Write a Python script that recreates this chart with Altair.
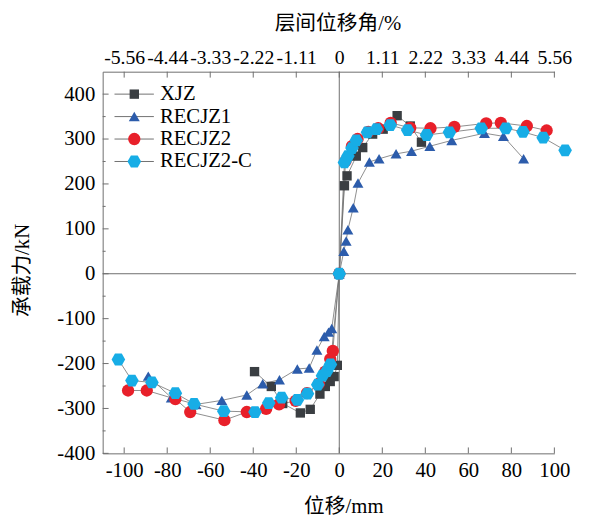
import altair as alt
import pandas as pd

# ---------------- data ----------------
series_names = ["XJZ", "RECJZ1", "RECJZ2", "RECJZ2-C"]
series_colors = ["#3a3e42", "#2c5cab", "#e8202a", "#17ade6"]
HEX = "M-1,0L-0.5,-0.866L0.5,-0.866L1,0L0.5,0.866L-0.5,0.866Z"
series_shapes = ["square", "triangle-up", "circle", HEX]
series_sizes = [90, 190, 121, 130]

xjz_x = [-39.4, -31.6, -26.3, -18.1, -13.5, -9.0, -6.5, -4.2, -2.4, -0.9, 0,
         2.4, 3.6, 7.9, 10.9, 15.5, 20.4, 26.9, 33.0, 38.2]
xjz_y = [-218, -251, -289, -310, -302, -268, -251, -240, -229, -204, 0,
         196, 218, 262, 281, 311, 322, 352, 329, 293]

r1_x = [-88.8, -78.1, -66.6, -54.6, -43.0, -35.6, -27.8, -19.5, -14.0, -10.4, -7.0, -5.0, -3.5, 0,
        2.1, 3.2, 4.0, 6.5, 8.7, 14.0, 18.5, 26.4, 33.6, 42.1, 52.3, 67.5, 76.3, 85.7]
r1_y = [-228, -276, -291, -282, -270, -245, -236, -212, -210, -170, -140, -130, -122, 0,
        50, 73, 98, 147, 202, 249, 256, 267, 273, 284, 297, 313, 306, 256]

r2_x = [-98.2, -89.5, -76.2, -69.3, -53.4, -43.0, -34.0, -28.0, -20.3, -15.0, -9.5, -6.5, -4.2, -3.0, 0,
        2.9, 5.9, 8.5, 13.5, 18.1, 23.9, 33.0, 42.4, 53.5, 68.3, 75.1, 87.2, 96.4]
r2_y = [-260, -260, -279, -308, -326, -308, -301, -291, -283, -266, -245, -218, -190, -172, 0,
        251, 284, 300, 316, 324, 336, 325, 324, 327, 335, 336, 329, 319]

r2c_x = [-102.7, -96.4, -87.1, -76.2, -67.5, -53.7, -39.2, -32.8, -26.8, -19.5, -14.8, -10.0, -7.8, -5.8, -4.1, 0,
         2.4, 4.0, 5.9, 7.9, 13.1, 17.3, 23.7, 31.8, 40.6, 51.2, 66.0, 77.4, 85.4, 94.8, 105.0]
r2c_y = [-191, -238, -242, -266, -290, -306, -308, -288, -276, -281, -267, -247, -227, -217, -202, 0,
         248, 262, 280, 297, 315, 322, 331, 320, 309, 315, 324, 324, 316, 303, 275]

x_ticks = [-100, -80, -60, -40, -20, 0, 20, 40, 60, 80, 100]
top_tick_labels = ["-5.56", "-4.44", "-3.33", "-2.22", "-1.11", "0",
                   "1.11", "2.22", "3.33", "4.44", "5.56"]
y_ticks = [-400, -300, -200, -100, 0, 100, 200, 300, 400]
y_minor = [-350, -250, -150, -50, 50, 150, 250, 350]
legend_rows = [400, 350, 300, 250]

# ---------------- layout ----------------
W, H = 458, 387
X_DOMAIN = [-110, 100]
Y_DOMAIN = [-400, 450]
SERIF = "Liberation Serif"
CJK = "'Liberation Serif', 'Noto Sans CJK SC'"
GRAY = "#6e6e6e"

frames = []
for name, xs, ys in [("XJZ", xjz_x, xjz_y), ("RECJZ1", r1_x, r1_y),
                     ("RECJZ2", r2_x, r2_y), ("RECJZ2-C", r2c_x, r2c_y)]:
    frames.append(pd.DataFrame({"x": xs, "y": ys, "series": name}))
df = pd.concat(frames, ignore_index=True)

xscale = alt.Scale(domain=X_DOMAIN, nice=False, zero=False)
yscale = alt.Scale(domain=Y_DOMAIN, nice=False, zero=False)

minus_fix = "replace(datum.label, '\u2212', '-')"
x_axis = alt.Axis(orient="bottom", values=x_ticks, ticks=False, tickSize=0, grid=False,
                  labelPadding=6, labelExpr=minus_fix, title="位移/mm",
                  titleX=244, titleY=54, titleBaseline="middle", titleAlign="center",
                  titleFont=CJK, titleFontSize=21, titleFontWeight="normal")
y_axis = alt.Axis(orient="left", values=y_ticks, ticks=False, tickSize=0, grid=False,
                  labelPadding=8, labelExpr=minus_fix, title="承载力/kN",
                  titleX=-81, titleY=201, titleAngle=-90, titleBaseline="middle",
                  titleAlign="center", titleFont=CJK, titleFontSize=21,
                  titleFontWeight="normal")

top_expr = " : ".join(f"datum.value == {v} ? '{l}'" for v, l in zip(x_ticks, top_tick_labels)) + " : ''"
top_axis = alt.Axis(orient="top", values=x_ticks, ticks=False, tickSize=0, grid=False,
                    labelPadding=4, labelExpr=top_expr, labelFontSize=20, title="层间位移角/%",
                    titleX=238, titleY=-49, titleBaseline="middle", titleAlign="center",
                    titleFont=CJK, titleFontSize=21, titleFontWeight="normal")

X = lambda f="x": alt.X(f"{f}:Q", scale=xscale, axis=x_axis)
Y = lambda f="y": alt.Y(f"{f}:Q", scale=yscale, axis=y_axis)

# zero lines
hzero = alt.Chart().mark_rule(color=GRAY, strokeWidth=1).encode(
    y=alt.Y(datum=0, scale=yscale, axis=y_axis), x=alt.value(0), x2=alt.value(W + 22))
vzero = alt.Chart().mark_rule(color=GRAY, strokeWidth=1).encode(
    x=alt.X(datum=0, scale=xscale, axis=x_axis), y=alt.value(0), y2=alt.value(H))

lines = alt.Chart(df).mark_line(color="#707070", strokeWidth=0.8).encode(
    x=X(), y=Y(), detail="series:N")

points = alt.Chart(df).mark_point(filled=True, opacity=1).encode(
    x=X(), y=Y(),
    color=alt.Color("series:N", scale=alt.Scale(domain=series_names, range=series_colors), legend=None),
    shape=alt.Shape("series:N", scale=alt.Scale(domain=series_names, range=series_shapes), legend=None),
    size=alt.Size("series:N", scale=alt.Scale(domain=series_names, range=series_sizes), legend=None),
)

# manual inward ticks
ymaj = alt.Chart(pd.DataFrame({"y": y_ticks})).mark_rule(color=GRAY).encode(
    y=Y(), x=alt.value(0), x2=alt.value(6))
ymin = alt.Chart(pd.DataFrame({"y": y_minor})).mark_rule(color=GRAY).encode(
    y=Y(), x=alt.value(0), x2=alt.value(3))
xbot = alt.Chart(pd.DataFrame({"x": x_ticks})).mark_rule(color=GRAY).encode(
    x=X(), y=alt.value(H - 6), y2=alt.value(H))
xtop = alt.Chart(pd.DataFrame({"x": x_ticks})).mark_rule(color=GRAY).encode(
    x=X(), y=alt.value(0), y2=alt.value(6))

# legend (in data coordinates)
leg = pd.DataFrame({"series": series_names, "y": legend_rows})
leg["x"] = -104.5
leg["x2"] = -86.2
leg["xs"] = -95.3
leg["xt"] = -83.4
leg_line = alt.Chart(leg).mark_rule(color="#707070", strokeWidth=1).encode(
    x=X(), x2="x2:Q", y=Y())
leg_pts = alt.Chart(leg).mark_point(filled=True, opacity=1).encode(
    x=alt.X("xs:Q", scale=xscale, axis=x_axis), y=Y(),
    color=alt.Color("series:N", scale=alt.Scale(domain=series_names, range=series_colors), legend=None),
    shape=alt.Shape("series:N", scale=alt.Scale(domain=series_names, range=series_shapes), legend=None),
    size=alt.Size("series:N", scale=alt.Scale(domain=series_names, range=series_sizes), legend=None),
)
leg_txt = alt.Chart(leg).mark_text(align="left", baseline="middle", font=SERIF,
                                   fontSize=21, color="black").encode(
    x=alt.X("xt:Q", scale=xscale, axis=x_axis), y=Y(), text="series:N")

main = alt.layer(hzero, vzero, lines, points, ymaj, ymin, xbot, xtop,
                 leg_line, leg_pts, leg_txt)

top = alt.Chart(pd.DataFrame({"x": x_ticks})).mark_point(opacity=0).encode(
    x=alt.X("x:Q", scale=alt.Scale(domain=X_DOMAIN, nice=False, zero=False), axis=top_axis),
    y=alt.value(0))

chart = alt.layer(main, top).resolve_scale(x="independent").properties(
    width=W, height=H,
    padding={"left": 96, "top": 61, "right": 27, "bottom": 64},
    autosize=alt.AutoSizeParams(type="none"),
).configure_view(stroke=None).configure_axis(
    domainColor=GRAY, domainWidth=1, labelFont=SERIF, labelFontSize=21,
    labelColor="black", titleColor="black", labelFlush=False, labelOverlap=False,
)

chart.save("out.html", embed_options={"renderer": "svg", "actions": False})
